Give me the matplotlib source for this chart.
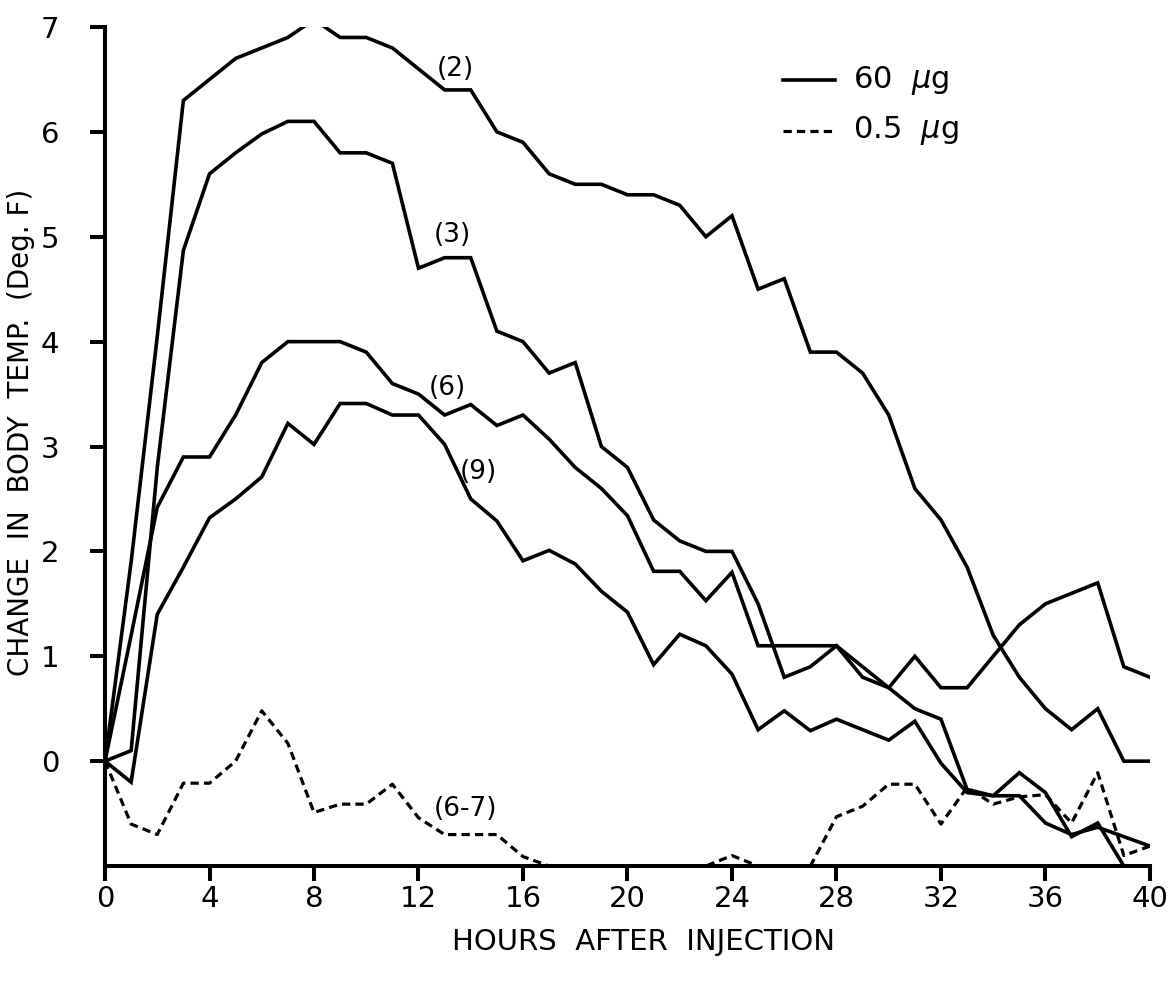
import matplotlib.pyplot as plt

# hours after injection
hours = list(range(0, 41))

# 60 ug groups (number of animals in brackets)
temp_2 = [0, 1.9, 4.05, 6.3, 6.5, 6.7, 6.8, 6.9, 7.07, 6.9, 6.9, 6.8, 6.6, 6.4, 6.4,
          6.0, 5.9, 5.6, 5.5, 5.5, 5.4, 5.4, 5.3, 5.0, 5.2, 4.5, 4.6, 3.9, 3.9, 3.7,
          3.3, 2.6, 2.3, 1.85, 1.2, 0.8, 0.5, 0.3, 0.5, 0.0, 0.0]
temp_3 = [0, 0.1, 2.8, 4.87, 5.6, 5.8, 5.98, 6.1, 6.1, 5.8, 5.8, 5.7, 4.7, 4.8, 4.8,
          4.1, 4.0, 3.7, 3.8, 3.0, 2.8, 2.3, 2.1, 2.0, 2.0, 1.5, 0.8, 0.9, 1.1, 0.8,
          0.7, 1.0, 0.7, 0.7, 1.0, 1.3, 1.5, 1.6, 1.7, 0.9, 0.8]
temp_6 = [0, 1.2, 2.42, 2.9, 2.9, 3.3, 3.8, 4.0, 4.0, 4.0, 3.9, 3.6, 3.5, 3.3, 3.4,
          3.2, 3.3, 3.07, 2.8, 2.6, 2.34, 1.81, 1.81, 1.53, 1.8, 1.1, 1.1, 1.1, 1.1, 0.9,
          0.7, 0.5, 0.4, -0.27, -0.33, -0.33, -0.59, -0.7, -0.63, -0.72, -0.81]
temp_9 = [0, -0.2, 1.4, 1.85, 2.32, 2.5, 2.71, 3.22, 3.02, 3.41, 3.41, 3.3, 3.3, 3.02, 2.5,
          2.29, 1.91, 2.01, 1.88, 1.62, 1.42, 0.92, 1.21, 1.1, 0.83, 0.3, 0.48, 0.29, 0.4, 0.3,
          0.2, 0.38, -0.02, -0.3, -0.33, -0.11, -0.3, -0.72, -0.59, -1.0, -1.0]

# 0.5 ug group
temp_67 = [0, -0.6, -0.7, -0.21, -0.21, 0.0, 0.48, 0.17, -0.49, -0.41, -0.41, -0.22, -0.54, -0.7, -0.7,
           -0.7, -0.91, -1.0, -1.0, -1.0, -1.0, -1.0, -1.0, -1.0, -0.9, -1.0, -1.0, -1.0, -0.53, -0.43,
           -0.22, -0.22, -0.6, -0.25, -0.41, -0.34, -0.32, -0.59, -0.11, -0.9, -0.81]

group_labels = ['(2)', '(3)', '(6)', '(9)', '(6-7)']
label_x = [13.4, 13.3, 13.1, 14.3, 13.8]
label_y = [6.6, 5.02, 3.56, 2.76, -0.46]

plt.rcParams['font.family'] = ['DejaVu Sans']

fig = plt.figure(figsize=(11.72, 9.81), dpi=100)
ax = fig.add_axes([0.0896, 0.1172, 0.8916, 0.8553])

lw = 2.6
dash = (2.6, 1.6)
for series in (temp_2, temp_3, temp_6, temp_9):
    ax.plot(hours, series, color='black', linewidth=lw, solid_joinstyle='miter')
ax.plot(hours, temp_67, color='black', linewidth=2.3, dashes=dash)

for txt, x, y in zip(group_labels, label_x, label_y):
    ax.text(x, y, txt, fontsize=19, ha='center', va='center')

# legend drawn by hand as in the original
ax.plot([25.95, 27.95], [6.49, 6.49], color='black', linewidth=lw)
ax.plot([25.95, 27.95], [6.01, 6.01], color='black', linewidth=2.3, dashes=dash)
ax.text(28.65, 6.49, '60  $\\mu$g', fontsize=22, va='center')
ax.text(28.65, 6.01, '0.5  $\\mu$g', fontsize=22, va='center')

ax.set_xlim(0, 40)
ax.set_ylim(-1, 7)
ax.set_xticks(range(0, 41, 4))
ax.set_yticks(range(0, 8))

ax.spines['top'].set_visible(False)
ax.spines['right'].set_visible(False)
ax.spines['left'].set_linewidth(2.9)
ax.spines['bottom'].set_linewidth(2.9)
ax.tick_params(axis='both', direction='out', length=11, width=2.9, labelsize=21)
ax.tick_params(axis='y', pad=22)
ax.tick_params(axis='x', pad=3)

ax.set_xlabel('HOURS  AFTER  INJECTION', fontsize=21)
ax.xaxis.set_label_coords(0.515, -0.074)
ax.set_ylabel('CHANGE  IN  BODY  TEMP.  (Deg. F)', fontsize=20, va='center')
ax.yaxis.set_label_coords(-0.08, 0.517)

fig.savefig('out.png', dpi=100)
plt.close(fig)
